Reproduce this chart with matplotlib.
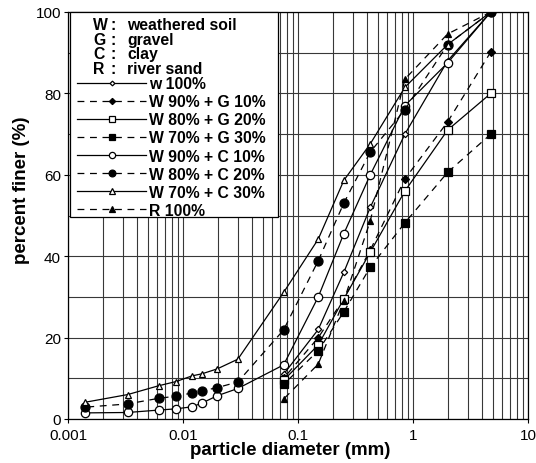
import matplotlib
matplotlib.use("Agg")
import matplotlib.pyplot as plt
from matplotlib.ticker import LogLocator, MultipleLocator, NullFormatter
from matplotlib.patches import Rectangle

plt.rcParams['font.family'] = ['Liberation Sans', 'DejaVu Sans']

# Sieve openings (mm) and hydrometer diameters (mm)
sieve_mm = [4.75, 2.0, 0.85, 0.425, 0.25, 0.15, 0.075]
hydro_mm = [0.030, 0.0198, 0.0146, 0.012, 0.0087, 0.0062, 0.0033, 0.0014]

# Percent finer for each mixture
w100 = [100, 88, 70, 52, 36, 22, 11]
w90_g10 = [90.2, 73, 59, 41.5, 29.5, 20, 10]
w80_g20 = [80, 71, 56, 41, 29.5, 18.2, 9.5]
w70_g30 = [70, 60.6, 48.2, 37.3, 26.3, 16.8, 8.5]
w90_c10 = [100, 87.5, 77, 60, 45.5, 30, 13.3, 7.5, 5.7, 3.9, 3.0, 2.5, 2.2, 1.6, 1.5]
w80_c20 = [100, 92, 76, 65.6, 53, 38.9, 21.9, 9.1, 7.7, 6.9, 6.4, 5.6, 5.1, 3.7, 2.9]
w70_c30 = [100, 92, 81.5, 67.6, 58.6, 44.2, 31.1, 14.7, 12.3, 11.1, 10.6, 9.2, 8.2, 6.0, 4.1]
r100 = [100, 94.6, 83.5, 48.7, 29, 13.5, 4.9]

labels = ["w 100%", "W 90% + G 10%", "W 80% + G 20%", "W 70% + G 30%",
          "W 90% + C 10%", "W 80% + C 20%", "W 70% + C 30%", "R 100%"]
header_keys = ["W", "G", "C", "R"]
header_names = ["weathered soil", "gravel", "clay", "river sand"]

W, H = 536, 464
fig = plt.figure(figsize=(W / 100, H / 100), dpi=100)


def fx(px):
    return px / W


def fy(py):
    return 1 - py / H


ax = fig.add_axes([fx(68), fy(420), fx(528) - fx(68), fy(13) - fy(420)])

solid = '-'
dashed = (0, (5.5, 4.5))
lw = 0.9
series = [
    (sieve_mm, w100, solid, 'D', 'white', 3.2),
    (sieve_mm, w90_g10, dashed, 'D', 'black', 4.2),
    (sieve_mm, w80_g20, solid, 's', 'white', 5.8),
    (sieve_mm, w70_g30, dashed, 's', 'black', 6.0),
    (sieve_mm + hydro_mm, w90_c10, solid, 'o', 'white', 6.0),
    (sieve_mm + hydro_mm, w80_c20, dashed, 'o', 'black', 6.5),
    (sieve_mm + hydro_mm, w70_c30, solid, '^', 'white', 5.0),
    (sieve_mm, r100, dashed, '^', 'black', 5.0),
]

handles = []
for (x, y, ls, mk, fc, ms), lab in zip(series, labels):
    h, = ax.plot(x, y, linestyle=ls, color='black', linewidth=lw, marker=mk,
                 markersize=ms, markerfacecolor=fc, markeredgecolor='black',
                 markeredgewidth=0.9, label=lab, zorder=3)
    handles.append(h)

ax.set_xscale('log')
ax.set_xlim(0.001, 10)
ax.set_ylim(0, 100)

ax.xaxis.set_minor_locator(LogLocator(base=10, subs=range(2, 10), numticks=20))
ax.xaxis.set_minor_formatter(NullFormatter())
ax.set_xticks([0.001, 0.01, 0.1, 1, 10])
ax.set_xticklabels(["0.001", "0.01", "0.1", "1", "10"])
ax.yaxis.set_major_locator(MultipleLocator(20))
ax.yaxis.set_minor_locator(MultipleLocator(10))

ax.grid(True, which='both', axis='both', color='#383838', linewidth=0.8)
ax.set_axisbelow(True)
ax.tick_params(which='major', length=3, width=0.8, labelsize=11, pad=2)
ax.tick_params(axis='x', which='major', pad=3.5)
ax.tick_params(which='minor', length=0)
for s in ax.spines.values():
    s.set_linewidth(0.9)

ax.set_xlabel("particle diameter (mm)", fontsize=13.5, fontweight='bold')
ax.xaxis.set_label_coords(0.483, -0.054)
ax.set_ylabel("percent finer (%)", fontsize=13.5, fontweight='bold')
ax.yaxis.set_label_coords(-0.082, 0.565)

# Key box with abbreviations and series legend
box = Rectangle((fx(70), fy(218)), fx(278) - fx(70), fy(13) - fy(218),
                transform=fig.transFigure, facecolor='white', edgecolor='black',
                linewidth=0.9, zorder=4)
box.set_clip_on(False)
ax.add_patch(box)

fs = 11.3
for i, (k, nm) in enumerate(zip(header_keys, header_names)):
    yy = fy(26 + i * 14.4)
    ax.text(fx(93), yy, k, transform=fig.transFigure, fontsize=fs, fontweight='bold',
            va='center', ha='left', zorder=6)
    ax.text(fx(111), yy, ":", transform=fig.transFigure, fontsize=fs, fontweight='bold',
            va='center', ha='left', zorder=6)
    ax.text(fx(127), yy, nm, transform=fig.transFigure, fontsize=fs, fontweight='bold',
            va='center', ha='left', zorder=6)

leg = ax.legend(handles=handles, loc='upper left', bbox_to_anchor=(fx(77), fy(77)),
                bbox_transform=fig.transFigure, frameon=False,
                prop={'weight': 'bold', 'size': fs}, handlelength=4.4,
                handletextpad=0.2, labelspacing=0.2, borderpad=0, borderaxespad=0,
                markerscale=0.75)
leg.set_zorder(6)

fig.savefig("out.png", dpi=100)
